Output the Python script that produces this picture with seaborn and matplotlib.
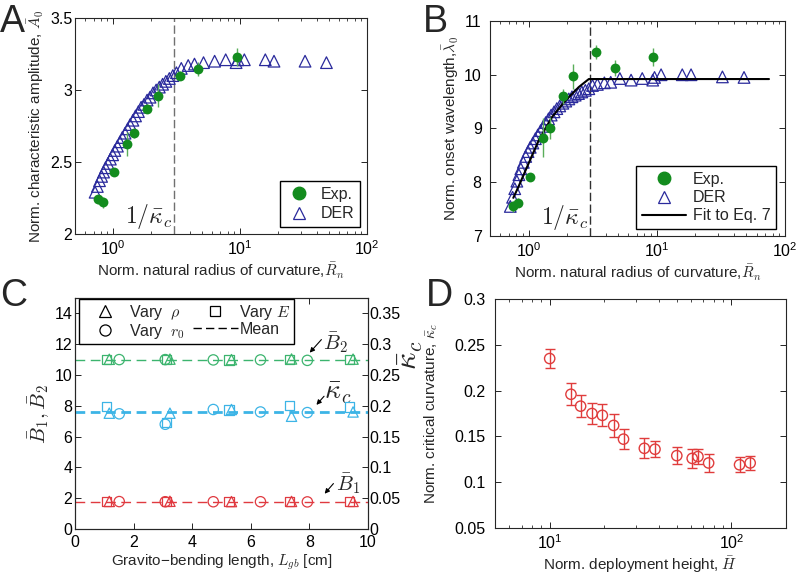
import matplotlib
matplotlib.use("Agg")
from matplotlib import pyplot as plt
from matplotlib.lines import Line2D
from matplotlib.ticker import NullFormatter
import seaborn as sns

# panels A and B: experiment
exp_rn = [0.76, 0.83, 1.02, 1.29, 1.47, 1.85, 2.24, 3.36, 4.70, 9.4]
exp_amp = [2.24, 2.22, 2.43, 2.625, 2.70, 2.87, 2.96, 3.10, 3.145, 3.23]
exp_amp_err = [0.03, 0.04, 0.02, 0.08, 0.03, 0.03, 0.08, 0.03, 0.05, 0.06]
exp_lam = [7.55, 7.62, 8.10, 8.83, 9.01, 9.60, 9.97, 10.43, 10.12, 10.33]
exp_lam_err = [0.10, 0.08, 0.06, 0.36, 0.20, 0.14, 0.23, 0.13, 0.15, 0.17]

# panels A and B: DER simulations
der_rn = [0.72, 0.75, 0.78, 0.81, 0.84, 0.87, 0.91, 0.95, 0.99, 1.03, 1.08,
          1.13, 1.18, 1.24, 1.30, 1.36, 1.43, 1.50, 1.58, 1.66, 1.75, 1.85,
          1.95, 2.06, 2.18, 2.31, 2.45, 2.60, 2.77, 2.95, 3.15, 3.44, 3.9,
          4.37, 5.15, 6.3, 7.7, 9.3, 9.6, 10.8, 15.8, 18.5, 32.5, 47.9]
der_amp = [2.29, 2.33, 2.37, 2.40, 2.43, 2.46, 2.49, 2.52, 2.55, 2.58, 2.61,
           2.64, 2.67, 2.70, 2.73, 2.76, 2.79, 2.82, 2.85, 2.88, 2.90, 2.93,
           2.95, 2.98, 3.00, 3.02, 3.04, 3.06, 3.08, 3.10, 3.12, 3.15, 3.17,
           3.18, 3.19, 3.20, 3.21, 3.19, 3.21, 3.21, 3.21, 3.20, 3.20, 3.19]
der_lam = [7.55, 7.72, 7.88, 8.02, 8.14, 8.25, 8.37, 8.48, 8.57, 8.65, 8.73,
           8.81, 8.88, 8.96, 9.04, 9.11, 9.18, 9.25, 9.31, 9.37, 9.42, 9.47,
           9.51, 9.55, 9.59, 9.62, 9.65, 9.68, 9.71, 9.74, 9.80, 9.82, 9.85,
           9.86, 9.93, 9.90, 9.93, 9.90, 9.95, 10.0, 10.0, 10.0, 9.96, 9.95]

# panel B: fit to Eq. 7
fit_rn = [0.76, 0.835, 1.0, 1.2, 1.52, 1.94, 2.46, 2.95, 75]
fit_lam = [7.71, 7.92, 8.35, 8.78, 9.21, 9.52, 9.77, 9.92, 9.92]

# panel C
lgb_rho = [1.17, 3.24, 5.34, 7.39, 9.49]
lgb_E = [1.08, 3.12, 5.26, 7.33, 9.38]
lgb_r0 = [1.51, 3.08, 4.72, 6.33, 7.93]
b2_rho = [11.02, 11.03, 11.00, 11.04, 11.03]
b2_E = [11.00, 11.00, 10.98, 11.02, 11.00]
b2_r0 = [11.00, 11.00, 10.98, 10.98, 10.95]
kc_rho = [0.188, 0.188, 0.194, 0.183, 0.190]
kc_E = [0.199, 0.173, 0.193, 0.201, 0.198]
kc_r0 = [0.187, 0.170, 0.194, 0.190, 0.189]
b1_rho = [1.79, 1.80, 1.78, 1.79, 1.79]
b1_E = [1.78, 1.78, 1.77, 1.78, 1.77]
b1_r0 = [1.78, 1.77, 1.77, 1.77, 1.76]
b2_mean = 11.0
kc_mean = 0.1895
b1_mean = 1.78

# panel D
height = [10.0, 13.1, 14.8, 17.1, 19.5, 22.5, 25.5, 33.2, 38.0, 50.1, 60.9, 65.5, 75.0, 111, 127]
kappa_c = [0.235, 0.196, 0.183, 0.175, 0.173, 0.162, 0.147, 0.137, 0.136, 0.129, 0.126, 0.128, 0.121, 0.119, 0.121]
kappa_err = [0.0105, 0.012, 0.012, 0.012, 0.012, 0.013, 0.011, 0.011, 0.009, 0.009, 0.010, 0.008, 0.010, 0.008, 0.008]

green = '#138c1e'
green_err = '#5aae5a'
navy = '#2a2a9c'
c_green = '#3cb46e'
c_cyan = '#3cb4e6'
c_red = '#e03a40'
d_red = '#e03c3c'

sns.set_style("ticks")
plt.rcParams['font.family'] = ['Liberation Sans', 'DejaVu Sans']
plt.rcParams['mathtext.fontset'] = 'cm'
plt.rcParams['axes.linewidth'] = 0.8

fig = plt.figure(figsize=(7.96, 5.75), dpi=100)


def px_axes(l, t, r, b):
    return fig.add_axes([l / 796, 1 - b / 575, (r - l) / 796, (b - t) / 575])


def matlab_ticks(ax, ypad=2, xpad=4, right=True):
    ax.tick_params(which='both', direction='in', top=True, right=right,
                   labelsize=11.5, colors='k')
    ax.tick_params(axis='y', pad=ypad)
    ax.tick_params(axis='x', pad=xpad)
    ax.tick_params(which='major', length=4, width=0.6)
    ax.tick_params(which='minor', length=2, width=0.5)


# ---------------- A
axA = px_axes(75, 18, 367, 234)
sns.scatterplot(x=der_rn, y=der_amp, ax=axA, marker='^', s=70, color=navy,
                facecolor='none', edgecolor=navy, linewidth=0.9, zorder=2)
axA.errorbar(exp_rn, exp_amp, yerr=exp_amp_err, fmt='none', ecolor=green_err,
             elinewidth=1, zorder=3)
sns.scatterplot(x=exp_rn, y=exp_amp, ax=axA, s=50, color=green,
                edgecolor=green, linewidth=0, zorder=4)
axA.axvline(3.0, color='#707070', ls='--', lw=1, dashes=(6, 2.5), zorder=1)
axA.text(2.95, 2.02, r'$1/\bar{\kappa}_c$', ha='right', va='bottom', fontsize=17)
axA.set_xscale('log')
axA.set_xlim(0.5, 100)
axA.set_ylim(2, 3.5)
axA.set_yticks([2, 2.5, 3, 3.5])
axA.set_yticklabels(['2', '2.5', '3', '3.5'])
axA.xaxis.set_minor_formatter(NullFormatter())
matlab_ticks(axA, ypad=2)
axA.set_xlabel(r'Norm. natural radius of curvature,$\bar{R}_n$', fontsize=11, labelpad=2)
axA.set_ylabel(r'Norm. characteristic amplitude, $\bar{A}_0$', fontsize=11, labelpad=3)
hA = [Line2D([], [], ls='', marker='o', ms=9, color=green),
      Line2D([], [], ls='', marker='^', ms=9, mfc='none', mec=navy, mew=0.9)]
axA.legend(hA, ['Exp.', 'DER'], loc='lower right', bbox_to_anchor=(0.976, 0.032),
           borderaxespad=0, fontsize=11.5, frameon=True, fancybox=False,
           edgecolor='k', framealpha=1, handlelength=1.7, handletextpad=0.5,
           labelspacing=0.3, borderpad=0.35)

# ---------------- B
axB = px_axes(490, 21, 785, 236)
sns.scatterplot(x=der_rn, y=der_lam, ax=axB, marker='^', s=70, color=navy,
                facecolor='none', edgecolor=navy, linewidth=0.9, zorder=2)
sns.lineplot(x=fit_rn, y=fit_lam, ax=axB, color='k', lw=1.5, zorder=3)
axB.errorbar(exp_rn, exp_lam, yerr=exp_lam_err, fmt='none', ecolor=green_err,
             elinewidth=1, zorder=4)
sns.scatterplot(x=exp_rn, y=exp_lam, ax=axB, s=50, color=green,
                edgecolor=green, linewidth=0, zorder=5)
axB.axvline(3.0, color='#303030', ls='--', lw=1, dashes=(6, 2.5), zorder=1)
axB.text(2.95, 7.08, r'$1/\bar{\kappa}_c$', ha='right', va='bottom', fontsize=17)
axB.set_xscale('log')
axB.set_xlim(0.5, 100)
axB.set_ylim(7, 11)
axB.set_yticks([7, 8, 9, 10, 11])
axB.xaxis.set_minor_formatter(NullFormatter())
matlab_ticks(axB, ypad=6)
axB.set_xlabel(r'Norm. natural radius of curvature,$\bar{R}_n$', fontsize=11, labelpad=2)
axB.set_ylabel(r'Norm. onset wavelength,$\bar{\lambda}_0$', fontsize=11, labelpad=2)
hB = [Line2D([], [], ls='', marker='o', ms=9, color=green),
      Line2D([], [], ls='', marker='^', ms=9, mfc='none', mec=navy, mew=0.9),
      Line2D([], [], color='k', lw=1.5)]
axB.legend(hB, ['Exp.', 'DER', 'Fit to Eq. 7'], loc='lower right',
           bbox_to_anchor=(0.969, 0.033), borderaxespad=0, fontsize=11.5,
           frameon=True, fancybox=False, edgecolor='k', framealpha=1,
           handlelength=2.8, handletextpad=0.4, labelspacing=0.2, borderpad=0.35)

# ---------------- C
axC = px_axes(75, 298, 368, 529)
axC2 = axC.twinx()
for ax_, ys, col, mean in [(axC, (b2_rho, b2_E, b2_r0), c_green, b2_mean),
                           (axC2, (kc_rho, kc_E, kc_r0), c_cyan, kc_mean),
                           (axC, (b1_rho, b1_E, b1_r0), c_red, b1_mean)]:
    lw = 2 if ax_ is axC2 else 1
    ax_.axhline(mean, color=col, ls='--', lw=lw, dashes=(7 / lw, 4 / lw), zorder=1)
    sns.scatterplot(x=lgb_E, y=ys[1], ax=ax_, marker='s', s=45, color=col,
                    facecolor='none', edgecolor=col, linewidth=0.9, zorder=3)
    sns.scatterplot(x=lgb_rho, y=ys[0], ax=ax_, marker='^', s=55, color=col,
                    facecolor='none', edgecolor=col, linewidth=0.9, zorder=3)
    sns.scatterplot(x=lgb_r0, y=ys[2], ax=ax_, marker='o', s=55, color=col,
                    facecolor='none', edgecolor=col, linewidth=0.9, zorder=3)
axC.set_xlim(0, 10)
axC.set_ylim(0, 15)
axC.set_xticks([0, 2, 4, 6, 8, 10])
axC.set_yticks([0, 2, 4, 6, 8, 10, 12, 14])
axC2.set_ylim(0, 0.375)
axC2.set_yticks([0, 0.05, 0.1, 0.15, 0.2, 0.25, 0.3, 0.35])
axC2.set_yticklabels(['0', '0.05', '0.1', '0.15', '0.2', '0.25', '0.3', '0.35'])
matlab_ticks(axC, ypad=2, right=False)
axC2.tick_params(which='both', direction='in', length=4, width=0.6, labelsize=11.5, pad=1, colors='k')
axC.set_xlabel(r'Gravito−bending length, $L_{gb}$ [cm]', fontsize=11, labelpad=2)
axC.set_ylabel(r'$\bar{B}_1, \bar{B}_2$', fontsize=15, labelpad=2)
fig.text(410 / 796, 1 - 355 / 575, r'$\bar{\kappa}_c$', rotation=90, fontsize=22,
         ha='center', va='center')
arrow = dict(arrowstyle='-|>', color='k', lw=0.8, mutation_scale=7, shrinkA=0, shrinkB=0)
axC.annotate('', xy=(8.01, 11.45), xytext=(8.41, 12.3), arrowprops=arrow)
axC.text(8.45, 12.1, r'$\bar{B}_2$', fontsize=15, va='center', ha='left')
axC.annotate('', xy=(8.24, 8.06), xytext=(8.5, 8.62), arrowprops=arrow)
axC.text(8.5, 8.85, r'$\bar{\kappa}_c$', fontsize=20, va='center', ha='left')
axC.annotate('', xy=(8.52, 2.29), xytext=(8.82, 2.95), arrowprops=arrow)
axC.text(8.9, 2.95, r'$\bar{B}_1$', fontsize=15, va='center', ha='left')
hC = [Line2D([], [], ls='', marker='^', ms=8, mfc='none', mec='k', mew=0.9),
      Line2D([], [], ls='', marker='o', ms=8, mfc='none', mec='k', mew=0.9),
      Line2D([], [], ls='', marker='s', ms=7, mfc='none', mec='k', mew=0.9),
      Line2D([], [], color='k', ls='--', lw=1, dashes=(6, 3))]
axC2.legend(hC, [r'Vary  $\rho$', r'Vary  $r_0$', r'Vary $E$', 'Mean'], ncol=2,
            loc='upper left', bbox_to_anchor=(0.015, 0.994), borderaxespad=0,
            fontsize=11.5, frameon=True, fancybox=False, edgecolor='k', framealpha=1,
            handlelength=2.8, handletextpad=0.1, labelspacing=0.0,
            columnspacing=0.5, borderpad=0.2)

# ---------------- D
axD = px_axes(495, 299, 786, 528)
axD.errorbar(height, kappa_c, yerr=kappa_err, fmt='none', ecolor=d_red,
             elinewidth=1, capsize=3.5, capthick=1, zorder=2)
sns.scatterplot(x=height, y=kappa_c, ax=axD, marker='o', s=55, color=d_red,
                facecolor='none', edgecolor=d_red, linewidth=1, zorder=3)
axD.set_xscale('log')
axD.set_xlim(5, 200)
axD.set_ylim(0.05, 0.3)
axD.set_yticks([0.05, 0.1, 0.15, 0.2, 0.25, 0.3])
axD.set_yticklabels(['0.05', '0.1', '0.15', '0.2', '0.25', '0.3'])
axD.xaxis.set_minor_formatter(NullFormatter())
matlab_ticks(axD, ypad=7)
axD.set_xlabel(r'Norm. deployment height, $\bar{H}$', fontsize=11, labelpad=2)
axD.set_ylabel(r'Norm. critical curvature, $\bar{\kappa}_c$', fontsize=11, labelpad=10)

for lab, x, y in [('A', 0, 4), ('B', 423, 4), ('C', 0, 278), ('D', 426, 278)]:
    fig.text(x / 796, 1 - y / 575, lab, fontsize=27, ha='left', va='top')

fig.savefig('out.png', dpi=100)
